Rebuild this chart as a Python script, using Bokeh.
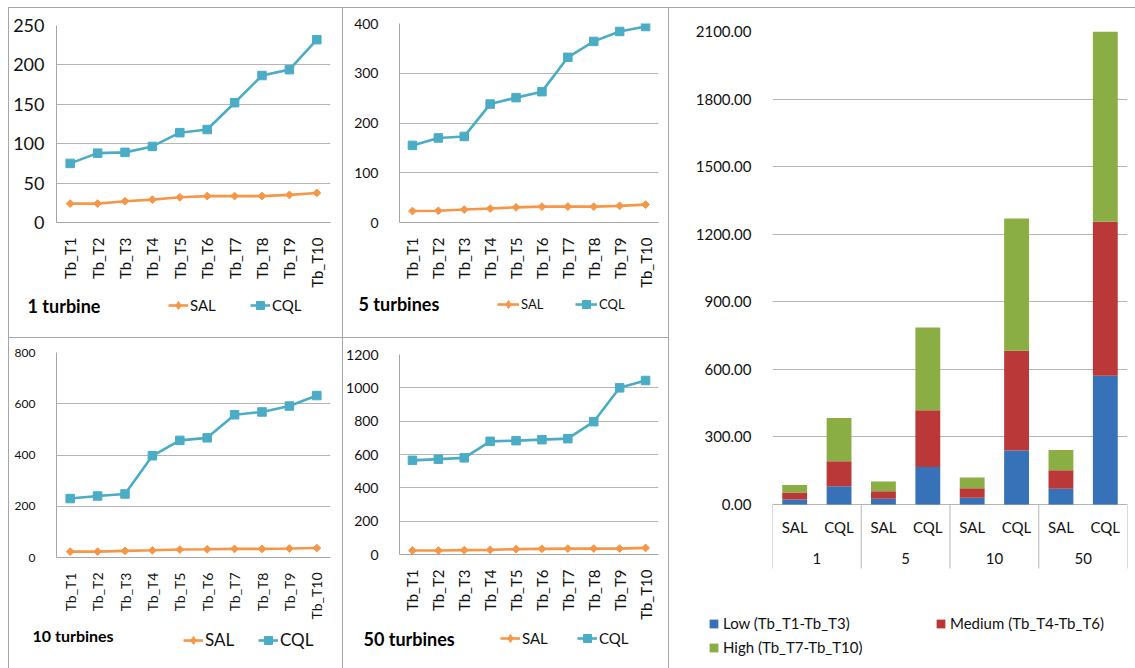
import math
from bokeh.plotting import figure
from bokeh.models import (FactorRange, Range1d, FixedTicker, Legend, LegendItem, Label,
                          Spacer, NumeralTickFormatter, ColumnDataSource)
from bokeh.layouts import row, column
from bokeh.core.properties import value
from bokeh.embed import file_html
from bokeh.resources import INLINE

# ---------------- data ----------------
categories = ["Tb_T1", "Tb_T2", "Tb_T3", "Tb_T4", "Tb_T5",
              "Tb_T6", "Tb_T7", "Tb_T8", "Tb_T9", "Tb_T10"]

sal_1 = [24, 24, 27, 29, 32, 33.5, 33.5, 33.5, 35, 37.5]
cql_1 = [75, 88, 89, 96.5, 114, 118, 152, 186.5, 194, 232]

sal_5 = [23, 23.5, 26, 28, 30.5, 32, 32, 32, 33.5, 36]
cql_5 = [155, 170, 173, 238, 251, 263, 332, 364, 384, 394]

sal_10 = [23, 23, 26, 28, 31, 32, 33.5, 33.5, 35, 37]
cql_10 = [230, 240, 248, 397, 457, 467, 557, 568, 591, 632]

sal_50 = [24, 24, 26, 28, 32, 34, 35.5, 35.5, 35.5, 39.5]
cql_50 = [565, 572, 580, 679, 683, 689, 695, 797, 1000, 1044]

groups = ["1", "5", "10", "50"]
methods = ["SAL", "CQL"]
low = [22, 81.5, 25, 167, 29.6, 240, 69.6, 572]
medium = [31, 111, 34, 252, 43, 443, 83, 683]
high = [34, 191, 43, 367, 47.4, 587, 89, 845]
level_labels = ["Low (Tb_T1-Tb_T3)", "Medium (Tb_T4-Tb_T6)", "High (Tb_T7-Tb_T10)"]

# ---------------- style ----------------
FONT = "Lato"
GRID = "#b5b5b5"
AXIS = "#a6a6a6"
BORDER = "#a6a6a6"
ORANGE = "#f79646"
AQUA = "#4bacc6"
TXT = "#111111"


def blank_strip(w, h):
    s = figure(width=w, height=h, x_range=Range1d(0, 1), y_range=Range1d(0, 1),
               output_backend="svg", toolbar_location=None, title_location=None,
               x_axis_location=None, y_axis_location=None,
               min_border_left=0, min_border_right=0, min_border_top=0, min_border_bottom=0)
    s.outline_line_color = None
    s.background_fill_color = "white"
    s.border_fill_color = "white"
    s.xgrid.visible = False
    s.ygrid.visible = False
    return s


def line_panel(title, sal, cql, ymax, step, w, h, mb, ytick_size, ystand, xtick_size,
               strip_h, title_size, title_xy, leg_size, leg_gw, sal_xy, cql_xy):
    p = figure(width=w, height=h, x_range=FactorRange(*categories),
               y_range=Range1d(0, ymax), output_backend="svg", toolbar_location=None,
               title_location=None,
               min_border_left=mb[0], min_border_right=mb[1],
               min_border_top=mb[2], min_border_bottom=mb[3])
    p.background_fill_color = "white"
    p.border_fill_color = "white"
    p.outline_line_color = None
    ticks = list(range(0, ymax + 1, step))
    p.yaxis.ticker = FixedTicker(ticks=ticks)
    p.ygrid.ticker = FixedTicker(ticks=ticks)
    p.ygrid.grid_line_color = GRID
    p.xgrid.grid_line_color = None
    for ax in (p.xaxis, p.yaxis):
        ax.axis_line_color = AXIS
        ax.major_tick_line_color = None
        ax.minor_tick_line_color = None
        ax.major_label_text_font = FONT
        ax.major_label_text_color = TXT
    p.yaxis.major_label_text_font_size = f"{ytick_size}px"
    p.yaxis.major_label_standoff = ystand
    p.xaxis.major_label_text_font_size = f"{xtick_size}px"
    p.xaxis.major_label_orientation = math.pi / 2
    p.xaxis.major_label_standoff = 9

    p.line(categories, sal, line_color=ORANGE, line_width=2.6)
    p.scatter(categories, sal, marker="square", angle=math.pi / 4, size=5.5,
              fill_color=ORANGE, line_color=ORANGE)
    p.line(categories, cql, line_color=AQUA, line_width=2.6)
    p.scatter(categories, cql, marker="square", size=8.5, fill_color=AQUA, line_color=AQUA)

    # strip below the chart holding the chart's name and its legend
    s = blank_strip(w, strip_h)
    s.add_layout(Label(x=title_xy[0], y=title_xy[1], x_units="screen", y_units="screen",
                       text=title, text_font=FONT, text_font_style="bold",
                       text_font_size=f"{title_size}px", text_baseline="middle",
                       text_color="#000000"))
    # legend sample glyphs (kept outside the strip's visible range)
    l_sal = s.line(x=[-5, -4], y=[-5, -5], line_color=ORANGE, line_width=2.6)
    m_sal = s.scatter(x=[-5], y=[-5], marker="diamond", size=8,
                      fill_color=ORANGE, line_color=ORANGE)
    l_cql = s.line(x=[-5, -4], y=[-5, -5], line_color=AQUA, line_width=2.6)
    m_cql = s.scatter(x=[-5], y=[-5], marker="square", size=8.5, fill_color=AQUA, line_color=AQUA)
    for lab, rends, xy in (("SAL", [l_sal, m_sal], sal_xy), ("CQL", [l_cql, m_cql], cql_xy)):
        lg = Legend(items=[LegendItem(label=lab, renderers=rends)], location=xy,
                    orientation="horizontal", padding=0, margin=0,
                    glyph_width=leg_gw, glyph_height=20, label_height=20,
                    label_standoff=2, border_line_color=None,
                    background_fill_alpha=0, label_text_font=FONT,
                    label_text_font_size=f"{leg_size}px", label_text_color=TXT)
        s.add_layout(lg)
    return p, row(s, spacing=0)


p1, s1 = line_panel("1 turbine", sal_1, cql_1, 250, 50, 333, 282, (47, 12, 17, 66),
                    18, 6, 15, 47, 18, (18, 32), 15, 20, (159, 22), (241, 22))
p2, s2 = line_panel("5 turbines", sal_5, cql_5, 400, 100, 325, 282, (46, 10, 15, 67),
                    14, 15, 15, 47, 18, (15, 34), 13, 22, (154, 23), (232, 23))
p3, s3 = line_panel("10 turbines", sal_10, cql_10, 800, 200, 333, 284, (43, 12, 14, 62),
                    12, 15, 14, 46, 16, (23, 33), 17, 20, (174, 18), (249, 18))
p4, s4 = line_panel("50 turbines", sal_50, cql_50, 1200, 200, 325, 284, (55, 9, 16, 65),
                    14, 15, 15, 46, 18, (20, 30), 15, 20, (157, 20), (234, 20))

# ---------------- stacked bar chart ----------------
factors = [(g, m) for g in groups for m in methods]
src = ColumnDataSource(dict(x=factors, low=low, medium=medium, high=high))

p5 = figure(width=466, height=582, x_range=FactorRange(*factors, group_padding=0, factor_padding=0),
            y_range=Range1d(-381.8, 2100), output_backend="svg", toolbar_location=None,
            title_location=None, x_axis_location=None,
            min_border_left=103, min_border_right=8, min_border_top=23, min_border_bottom=0)
p5.background_fill_color = "white"
p5.border_fill_color = "white"
p5.outline_line_color = None
bticks = list(range(0, 2101, 300))
p5.yaxis.ticker = FixedTicker(ticks=bticks)
p5.ygrid.ticker = FixedTicker(ticks=bticks)
p5.yaxis.formatter = NumeralTickFormatter(format="0.00")
p5.yaxis.axis_line_color = None
p5.yaxis.major_tick_line_color = None
p5.yaxis.minor_tick_line_color = None
p5.yaxis.major_label_text_font = FONT
p5.yaxis.major_label_text_font_size = "15px"
p5.yaxis.major_label_text_color = TXT
p5.yaxis.major_label_standoff = 15
p5.ygrid.grid_line_color = GRID
p5.xgrid.grid_line_color = None

bar_colors = ["#3771b8", "#ba3838", "#8aae43"]
p5.vbar_stack(["low", "medium", "high"], x="x", width=0.56, source=src,
              color=bar_colors, line_color=None)

# category table under the bars
sub_src = ColumnDataSource(dict(x=factors, y=[-102] * len(factors), t=[m for g, m in factors]))
p5.text(x="x", y="y", text="t", source=sub_src, text_align="center", text_baseline="middle",
        text_font=value(FONT), text_font_size=value("15px"), text_color=TXT)
grp_src = ColumnDataSource(dict(x=[(g, "SAL", 0.5) for g in groups], y=[-240] * len(groups), t=groups))
p5.text(x="x", y="y", text="t", source=grp_src, text_align="center", text_baseline="middle",
        text_font=value(FONT), text_font_size=value("15px"), text_color=TXT)
sep_x = [(g, "SAL", -0.5) for g in groups] + [(groups[-1], "CQL", 0.5)]
p5.segment(x0=sep_x, y0=[0] * len(sep_x), x1=sep_x, y1=[-284] * len(sep_x),
           line_color=GRID, line_width=1)

# legend strip under the bar chart
s5 = blank_strip(466, 78)
leg_rends = [s5.vbar(x=[-5], top=[-5], bottom=[-6], width=0.5, color=c, line_color=None)
             for c in bar_colors]
leg_pos = [(39, 36), (266, 36), (39, 12)]
for lab, r, xy in zip(level_labels, leg_rends, leg_pos):
    lg = Legend(items=[LegendItem(label=lab, renderers=[r])], location=xy, padding=0, margin=0,
                glyph_width=11, glyph_height=11, label_height=11, label_standoff=4,
                border_line_color=None, background_fill_alpha=0, label_text_font=FONT,
                label_text_font_size="15px", label_text_color=TXT)
    s5.add_layout(lg)


# ---------------- layout with frame lines ----------------
def vline(h):
    return Spacer(width=1, height=h, margin=0, styles={"background-color": BORDER})


def hline(w):
    return Spacer(width=w, height=1, margin=0, styles={"background-color": BORDER})


col1 = column(hline(333), p1, s1, hline(333), p3, s3, spacing=0)
col2 = column(hline(325), p2, s2, hline(325), p4, s4, spacing=0)
col3 = column(hline(466), p5, row(s5, spacing=0), spacing=0)
body = row(Spacer(width=8, height=661, margin=0), vline(661), col1, vline(661), col2,
           vline(661), col3, spacing=0)
page = column(Spacer(width=1135, height=7, margin=0), body, spacing=0)

open("out.html", "w").write(file_html(page, INLINE))
